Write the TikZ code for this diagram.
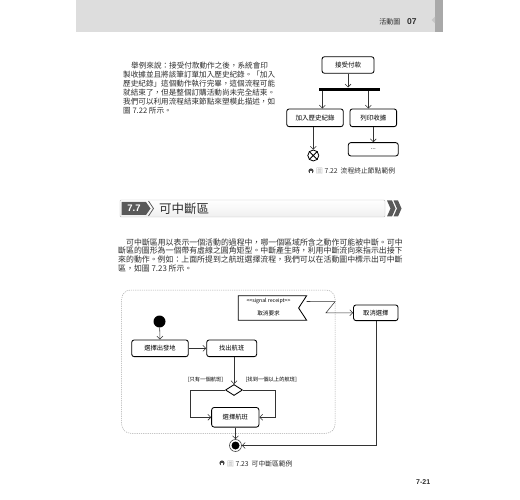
\documentclass[tikz,border=0pt]{standalone}
\usepackage{fontspec}
\setmainfont{Noto Sans CJK TC}
\newfontfamily\lsans{Liberation Sans}
\usetikzlibrary{arrows.meta,shapes.geometric}
\definecolor{txt}{HTML}{2E2E2E}
\definecolor{hdr}{HTML}{DDDDDD}
\definecolor{hdrdark}{HTML}{A9A9A9}
\definecolor{headdark}{HTML}{595959}
\newcommand\fsz[1]{\fontsize{#1}{#1}\selectfont}
\begin{document}
\begin{tikzpicture}[x=1pt,y=-1pt,
  body/.style={anchor=base west, inner sep=0, text=txt},
  act/.style={draw, line width=0.85pt, rounded corners=2.5pt, inner sep=0, align=center, text=black},
  flow/.style={draw=black!80, line width=0.55pt, -{Straight Barb[length=3pt,width=6pt]}},
  captext/.style={anchor=base west, inner sep=0, text=txt, font=\fsz{6.8}},
  capicon/.pic={\fill[gray!55!black] (0,0) circle (2.6pt); \fill[white] (-0.6,0.4) rectangle (0.6,3);}
]
\useasboundingbox (0,0) rectangle (520,500);
% header
\fill[hdr] (76,0) rectangle (443.3,31.7);
\fill[hdrdark] (435,0) rectangle (443.3,31.7);
\fill[gray!45] (435,16.5) -- (431.5,20) -- (435,23.5) -- cycle;
\node[anchor=base east, inner sep=0, font=\fsz{7}, text=txt] (hdrtxt) at (400.5,24.5) {活動圖};
\node[anchor=base west, inner sep=0, font=\lsans\bfseries\fsz{8.5}, text=txt] (hdrnum) at (407,24.5) {07};

% paragraph 1
\begin{scope}[font=\fsz{7.6}]
\node[body] (p1a) at (131,68.6) {舉例來說：接受付款動作之後，系統會印};
\node[body] (p1b) at (123,77.6) {製收據並且將該筆訂單加入歷史紀錄。「加入};
\node[body] (p1c) at (123,86.4) {歷史紀錄」這個動作執行完畢，這個流程可能};
\node[body] (p1d) at (123,95.4) {就結束了，但是整個訂購活動尚未完全結束。};
\node[body] (p1e) at (123,104.4) {我們可以利用流程結束節點來塑模此描述，如};
\node[body] (p1f) at (123,113.6) {圖 7.22 所示。};
\end{scope}

% figure 7.22
\node[act, minimum width=52pt, minimum height=16.6pt, font=\fsz{6.5}] (pay) at (348,65) {接受付款};
\node[fill=black, minimum width=61pt, minimum height=3pt, inner sep=0] (bar) at (349.5,89.2) {};
\node[act, minimum width=56.6pt, minimum height=17.7pt, font=\fsz{6.5}] (hist) at (315,117.8) {加入歷史紀錄};
\node[act, minimum width=46.7pt, minimum height=17.7pt, font=\fsz{6.5}] (print) at (373.3,117.8) {列印收據};
\node[act, minimum width=50pt, minimum height=13.3pt, font=\fsz{6.5}] (dots) at (373.3,149.3) {...};
\node[circle, draw, line width=0.8pt, minimum size=11pt, inner sep=0] (ff) at (313.3,155.5) {};
\draw[line width=0.8pt] (ff.north west) -- (ff.south east) (ff.north east) -- (ff.south west);
\coordinate (b1) at (322.3,90.7);
\coordinate (b2) at (368.3,90.7);
\draw[flow] (pay.south) -- (pay.south |- bar.north);
\draw[flow] (b1) -- (b1 |- hist.north);
\draw[flow] (b2) -- (b2 |- print.north);
\draw[flow] (hist.south -| ff) -- (ff.north);
\draw[flow] (print.south -| dots) -- (dots.north);
\pic at (311,171) {capicon};
\node[captext] (cap1) at (316,174) {{\color{gray!55}圖} 7.22\hspace{3pt}流程終止節點範例};

% heading 7.7
\draw[gray!55, line width=0.4pt, top color=white, bottom color=gray!12, rounded corners=1pt] (120,200) rectangle (385,217);
\fill[headdark] (121.5,202) -- (146,202) -- (150.5,208.5) -- (146,215) -- (121.5,215) -- cycle;
\draw[headdark, line width=0.7pt] (148.5,201) -- (153.5,208.5) -- (148.5,216);
\node[inner sep=0, font=\lsans\bfseries\fsz{9.5}, text=white] (secnum) at (134,208.6) {7.7};
\node[anchor=west, inner sep=0, font=\fsz{12.5}, text=txt] (sectitle) at (159,209) {可中斷區};
\fill[headdark] (387,200.5) -- (392,200.5) -- (395.5,208.5) -- (392,216.5) -- (387,216.5) -- (390.5,208.5) -- cycle;
\fill[headdark] (393.5,200.5) -- (398,200.5) -- (401.5,208.5) -- (398,216.5) -- (393.5,216.5) -- (397,208.5) -- cycle;

% paragraph 2
\begin{scope}[font=\fsz{7.9}]
\node[body] (p2a) at (126,245.2) {可中斷區用以表示一個活動的過程中，哪一個區域所含之動作可能被中斷。可中};
\node[body] (p2b) at (118,254) {斷區的圖形為一個帶有虛線之圓角矩型。中斷產生時，利用中斷流向來指示出接下};
\node[body] (p2c) at (118,262.8) {來的動作。例如：上面所提到之航班選擇流程，我們可以在活動圖中標示出可中斷};
\node[body] (p2d) at (118,271.6) {區，如圖 7.23 所示。};
\end{scope}

% figure 7.23
\draw[gray!70, dashed, dash pattern=on 1.2pt off 1pt, line width=0.5pt, rounded corners=9pt] (121.7,290) rectangle (335,433.3);
\node[circle, fill=black, minimum size=12pt, inner sep=0] (init) at (159.5,321.5) {};
\node[act, minimum width=56.6pt, minimum height=16.7pt, font=\fsz{6.3}] (dep) at (160,348.3) {選擇出發地};
\node[act, minimum width=50pt, minimum height=16.7pt, font=\fsz{6.3}] (find) at (231.7,348.3) {找出航班};
\node[diamond, draw, line width=0.85pt, minimum width=17pt, minimum height=11pt, inner sep=0] (dec) at (234,390) {};
\node[act, minimum width=47.3pt, minimum height=19.6pt, font=\fsz{6.3}] (sel) at (235.3,417.3) {選擇航班};
\node[circle, draw=black!70, line width=0.6pt, minimum size=12pt, inner sep=0] (af) at (235.5,445.5) {};
\node[circle, fill=black, minimum size=8pt, inner sep=0] (afin) at (af) {};
\node[minimum width=68pt, minimum height=24pt, inner sep=0] (sig) at (272.4,308) {};
\draw[line width=0.85pt] (sig.north west) -- (sig.north east) -- ([xshift=-8pt]sig.east) -- (sig.south east) -- (sig.south west) -- cycle;
\node[inner sep=0, font=\fsz{5.2}] (sigst) at (268.5,301.5) {<{}<signal receipt>{}>};
\node[inner sep=0, font=\fsz{5.6}] (sigtx) at (268.5,313) {取消要求};
\node[act, minimum width=44.5pt, minimum height=15.7pt, font=\fsz{6.3}] (cancel) at (375.8,312.8) {取消選擇};
\node[inner sep=0, font=\fsz{5.3}] (g1) at (205.5,380) {[只有一個航班]};
\node[inner sep=0, font=\fsz{5.3}] (g2) at (271.3,380) {[找到一個以上的航班]};
\coordinate (lc) at (190.7,390);
\coordinate (rc) at (275.7,390);
\coordinate (z1) at (335,301.7);
\coordinate (z2) at (326,312.8);
\draw[flow] (init) -- (dep.north);
\draw[flow] (dep.east) -- (find.west);
\draw[flow] (find.south -| dec) -- (dec.north);
\draw[flow] (dec.west) -- (lc) -- (lc |- sel) -- (sel.west);
\draw[flow] (dec.east) -- (rc) -- (rc |- sel) -- (sel.east);
\draw[flow] (sel.south -| af) -- (af.north);
\draw[flow] ([yshift=-5.7pt]sig.north east) -- (z1) -- (z2) -- (z2 -| cancel.west);
\draw[flow] (cancel.south) -- (cancel.south |- af) -- (af.east);
\pic at (222,463) {capicon};
\node[captext] (cap2) at (227,466) {{\color{gray!55}圖} 7.23\hspace{3pt}可中斷區範例};

% page number
\node[anchor=base west, inner sep=0, font=\lsans\bfseries\fsz{7}, text=txt] (pageno) at (416,484.5) {7-21};
\end{tikzpicture}
\end{document}
